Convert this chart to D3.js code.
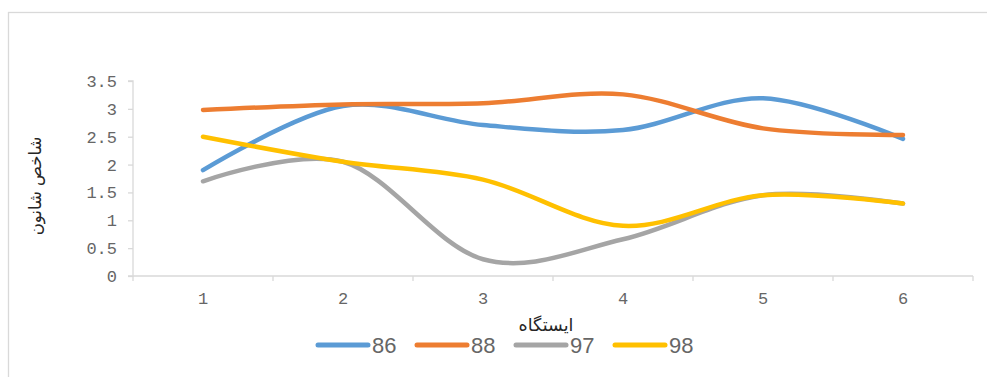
<!DOCTYPE html>
<html>
<head>
<meta charset="utf-8">
<script src="https://cdn.jsdelivr.net/npm/d3@7"></script>
<style>
  html, body { margin: 0; padding: 0; background: #fff; }
  svg { display: block; }
</style>
</head>
<body>
<svg id="chart" width="987" height="377"></svg>
<script>
// Stations on the x axis
const stations = ["1", "2", "3", "4", "5", "6"];
// Shannon index per station, one array per year
const s86 = [1.90, 3.05, 2.71, 2.62, 3.19, 2.46];
const s88 = [2.98, 3.08, 3.10, 3.26, 2.65, 2.53];
const s97 = [1.70, 2.05, 0.30, 0.66, 1.45, 1.30];
const s98 = [2.50, 2.05, 1.73, 0.90, 1.45, 1.30];
const seriesNames = ["86", "88", "97", "98"];
const seriesValues = [s86, s88, s97, s98];
const seriesColors = ["#5b9bd5", "#ed7d31", "#a5a5a5", "#ffc000"];
const yTicks = [0, 0.5, 1, 1.5, 2, 2.5, 3, 3.5];
const yTickLabels = ["0", "0.5", "1", "1.5", "2", "2.5", "3", "3.5"];
const xTitle = "ایستگاه";
const yTitle = "شاخص شانون";

const svg = d3.select("#chart");
const gridColor = "#d9d9d9";
const textColor = "#666666";

// outer chart frame (extends past the right and bottom edges)
svg.append("rect")
  .attr("x", 8.5).attr("y", 12.5)
  .attr("width", 1000).attr("height", 400)
  .attr("fill", "none").attr("stroke", gridColor).attr("stroke-width", 1.3);

const plot = { left: 133, right: 973, top: 81, bottom: 276 };

const x = d3.scaleBand().domain(stations).range([plot.left, plot.right]).padding(0);
const y = d3.scaleLinear().domain([0, 3.5]).range([plot.bottom, plot.top]);
const cx = d => x(d) + x.bandwidth() / 2;

// y axis
const yAxis = d3.axisLeft(y).tickValues(yTicks)
  .tickFormat((d, i) => yTickLabels[i]).tickSize(5).tickPadding(11);
const gy = svg.append("g").attr("transform", `translate(${plot.left},0)`).call(yAxis);
gy.select(".domain").attr("stroke", gridColor).attr("stroke-width", 1.3)
  .attr("d", `M-5,${plot.bottom}H0V${plot.top}H-5`);
gy.selectAll(".tick line").attr("stroke", gridColor).attr("stroke-width", 1.3);
gy.selectAll(".tick text")
  .attr("fill", textColor)
  .style("font-family", "'Liberation Mono', 'DejaVu Sans Mono', monospace")
  .style("font-size", "17px");

// x axis with ticks between categories
const boundaries = stations.map(s => x(s)).concat([plot.right]);
const gx = svg.append("g").attr("transform", `translate(0,${plot.bottom})`);
gx.append("line").attr("x1", plot.left).attr("x2", plot.right)
  .attr("stroke", gridColor).attr("stroke-width", 1.3);
gx.selectAll("line.tk").data(boundaries).join("line").attr("class", "tk")
  .attr("x1", d => d).attr("x2", d => d).attr("y1", 0).attr("y2", 5)
  .attr("stroke", gridColor).attr("stroke-width", 1.3);
gx.selectAll("text").data(stations).join("text")
  .attr("x", d => cx(d)).attr("y", 28)
  .attr("text-anchor", "middle")
  .attr("fill", textColor)
  .style("font-family", "'Liberation Mono', 'DejaVu Sans Mono', monospace")
  .style("font-size", "17px")
  .text(d => d);

// smoothed series lines
const line = d3.line()
  .x((d, i) => cx(stations[i]))
  .y(d => y(d))
  .curve(d3.curveCatmullRom.alpha(0));

svg.append("g").selectAll("path").data(seriesValues).join("path")
  .attr("d", d => line(d))
  .attr("fill", "none")
  .attr("stroke", (d, i) => seriesColors[i])
  .attr("stroke-width", 4.5)
  .attr("stroke-linecap", "round")
  .attr("stroke-linejoin", "round");

// axis titles
svg.append("text")
  .attr("x", 546).attr("y", 331)
  .attr("text-anchor", "middle")
  .attr("fill", "#262626")
  .style("font-family", "'DejaVu Sans', sans-serif")
  .style("font-size", "17.5px")
  .text(xTitle);

svg.append("text")
  .attr("transform", "translate(41,186) rotate(-90)")
  .attr("text-anchor", "middle")
  .attr("fill", "#262626")
  .style("font-family", "'DejaVu Sans', sans-serif")
  .style("font-size", "16.5px")
  .text(yTitle);

// legend
const legend = svg.append("g").attr("transform", "translate(318,345)");
const items = legend.selectAll("g").data(seriesNames).join("g")
  .attr("transform", (d, i) => `translate(${i * 99},0)`);
items.append("line").attr("x1", 0).attr("x2", 50).attr("y1", 0).attr("y2", 0)
  .attr("stroke", (d, i) => seriesColors[i])
  .attr("stroke-width", 5).attr("stroke-linecap", "round");
items.append("text").attr("x", 54).attr("y", 8)
  .attr("fill", textColor)
  .style("font-family", "'Liberation Sans', Arial, sans-serif")
  .style("font-size", "22px")
  .text(d => d);
</script>
</body>
</html>
